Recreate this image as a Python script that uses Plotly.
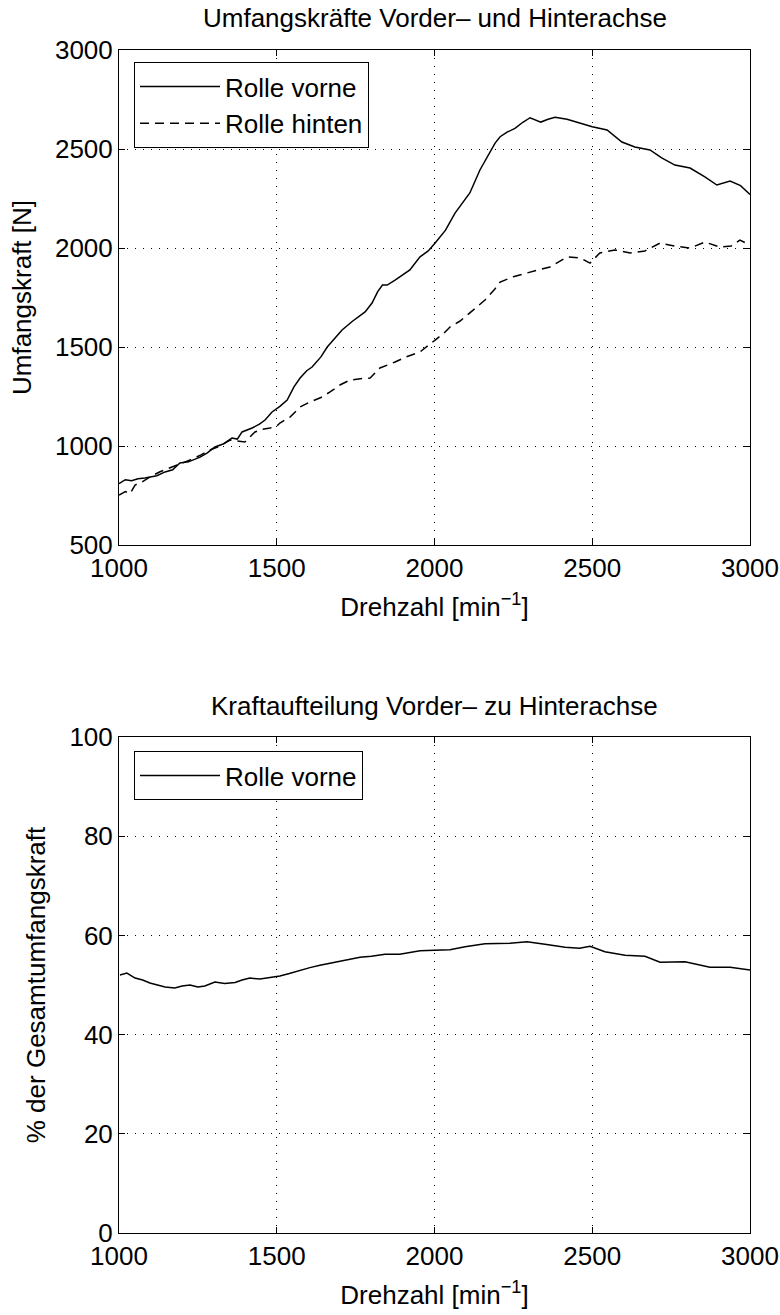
import plotly.graph_objects as go

# ---- data ----
rpm_vorne = [1000, 1020, 1040, 1060, 1082, 1100, 1120, 1146, 1170, 1193, 1220, 1257, 1280, 1304, 1330,
             1358, 1375, 1390, 1422, 1445, 1463, 1485, 1510, 1533, 1555, 1574, 1595, 1612, 1640, 1660,
             1685, 1707, 1740, 1780, 1802, 1820, 1835, 1850, 1875, 1900, 1922, 1954, 1980, 2002, 2035,
             2065, 2090, 2112, 2144, 2176, 2192, 2208, 2230, 2255, 2280, 2303, 2320, 2337, 2360, 2382,
             2420, 2461, 2500, 2547, 2570, 2594, 2635, 2683, 2720, 2762, 2810, 2857, 2895, 2937, 2970, 3000]
kraft_vorne = [810, 830, 825, 835, 838, 845, 850, 869, 880, 914, 920, 944, 965, 995, 1010,
               1040, 1035, 1071, 1091, 1110, 1131, 1172, 1200, 1232, 1300, 1343, 1380, 1399, 1450, 1500,
               1545, 1586, 1630, 1677, 1722, 1780, 1813, 1813, 1838, 1865, 1889, 1955, 1985, 2025, 2090,
               2176, 2230, 2278, 2394, 2480, 2530, 2562, 2585, 2604, 2635, 2658, 2648, 2636, 2650, 2660,
               2650, 2630, 2612, 2596, 2565, 2535, 2510, 2495, 2455, 2419, 2404, 2359, 2318, 2338, 2315, 2270]

rpm_hinten = [1000, 1020, 1035, 1051, 1075, 1098, 1130, 1162, 1190, 1225, 1260, 1288, 1320, 1352, 1375,
              1399, 1431, 1455, 1479, 1500, 1510, 1542, 1574, 1605, 1640, 1669, 1700, 1732, 1765, 1796,
              1827, 1875, 1910, 1954, 2002, 2030, 2049, 2080, 2112, 2140, 2160, 2190, 2208, 2250, 2287,
              2330, 2366, 2400, 2420, 2461, 2493, 2524, 2550, 2572, 2620, 2667, 2715, 2760, 2810, 2857,
              2905, 2940, 2968, 3000]
kraft_hinten = [752, 770, 760, 803, 820, 844, 870, 889, 905, 929, 955, 980, 1000, 1030, 1025,
                1020, 1071, 1085, 1091, 1100, 1116, 1146, 1197, 1222, 1245, 1273, 1308, 1333, 1340, 1343,
                1394, 1424, 1450, 1475, 1535, 1570, 1601, 1630, 1672, 1710, 1737, 1790, 1828, 1855, 1873,
                1890, 1904, 1935, 1955, 1950, 1924, 1975, 1985, 1990, 1975, 1985, 2025, 2010, 2000, 2030,
                2004, 2010, 2040, 2015]

rpm_anteil = [1003, 1025, 1051, 1075, 1098, 1120, 1146, 1177, 1200, 1225, 1250, 1272, 1304, 1335, 1368,
              1390, 1415, 1447, 1480, 1510, 1540, 1574, 1605, 1637, 1685, 1720, 1764, 1800, 1843, 1890,
              1954, 2000, 2049, 2097, 2160, 2239, 2293, 2350, 2414, 2460, 2493, 2540, 2604, 2667, 2715,
              2794, 2830, 2873, 2937, 3000]
anteil_vorne = [52.0, 52.4, 51.4, 51.0, 50.4, 50.0, 49.6, 49.4, 49.8, 50.0, 49.6, 49.8, 50.6, 50.3, 50.5,
                51.0, 51.4, 51.2, 51.5, 51.8, 52.3, 53.0, 53.5, 54.0, 54.6, 55.0, 55.6, 55.8, 56.2, 56.2,
                56.9, 57.0, 57.1, 57.7, 58.3, 58.4, 58.7, 58.2, 57.6, 57.4, 57.8, 56.7, 56.0, 55.8, 54.6,
                54.7, 54.2, 53.6, 53.6, 53.0]

x_ticks = [1000, 1500, 2000, 2500, 3000]
y1_ticks = [500, 1000, 1500, 2000, 2500, 3000]
y2_ticks = [0, 20, 40, 60, 80, 100]

FONT = "Liberation Sans, Arial, Helvetica, sans-serif"
FS = 26

fig = go.Figure()
fig.add_trace(go.Scatter(x=rpm_vorne, y=kraft_vorne, mode="lines", name="Rolle vorne",
                         line=dict(color="black", width=1.5), xaxis="x", yaxis="y", legend="legend"))
fig.add_trace(go.Scatter(x=rpm_hinten, y=kraft_hinten, mode="lines", name="Rolle hinten",
                         line=dict(color="black", width=1.5, dash="9px,6px"), xaxis="x", yaxis="y",
                         legend="legend"))
fig.add_trace(go.Scatter(x=rpm_anteil, y=anteil_vorne, mode="lines", name="Rolle vorne",
                         line=dict(color="black", width=1.5), xaxis="x2", yaxis="y2", legend="legend2"))

axis_common = dict(
    showline=True, linecolor="black", linewidth=1, mirror="ticks",
    ticks="inside", ticklen=6, tickcolor="black", automargin=False,
    showgrid=True, gridcolor="black", gridwidth=1, griddash="1px,7px",
    zeroline=False, tickfont=dict(size=FS, color="black", family=FONT),
)

XDOM = [119 / 780, 750 / 780]

fig.update_layout(
    width=780, height=1315,
    margin=dict(l=0, r=0, t=0, b=0),
    paper_bgcolor="white", plot_bgcolor="white",
    font=dict(family=FONT, color="black"),
    xaxis=dict(domain=XDOM, range=[1000, 3000], tickvals=x_ticks, anchor="y",
               title=dict(text="Drehzahl [min<sup>−1</sup>]", font=dict(size=FS), standoff=15),
               **axis_common),
    yaxis=dict(domain=[1 - 545 / 1315, 1 - 50 / 1315], range=[500, 3000], tickvals=y1_ticks, anchor="x",
               title=dict(text="Umfangskraft [N]", font=dict(size=FS), standoff=15),
               **axis_common),
    xaxis2=dict(domain=XDOM, range=[1000, 3000], tickvals=x_ticks, anchor="y2",
                title=dict(text="Drehzahl [min<sup>−1</sup>]", font=dict(size=FS), standoff=15),
                **axis_common),
    yaxis2=dict(domain=[1 - 1233 / 1315, 1 - 737 / 1315], range=[0, 100], tickvals=y2_ticks, anchor="x2",
                title=dict(text="% der Gesamtumfangskraft", font=dict(size=FS), standoff=16),
                **axis_common),
    legend=dict(x=134 / 780, y=1 - 62 / 1315, xanchor="left", yanchor="top",
                bgcolor="white", bordercolor="black", borderwidth=1, itemwidth=80,
                font=dict(size=FS, color="black", family=FONT)),
    legend2=dict(x=134 / 780, y=1 - 751 / 1315, xanchor="left", yanchor="top",
                 bgcolor="white", bordercolor="black", borderwidth=1, itemwidth=80,
                 font=dict(size=FS, color="black", family=FONT)),
    annotations=[
        dict(text="Umfangskräfte Vorder– und Hinterachse", x=(119 + 750) / 2 / 780, y=1 - 18 / 1315,
             xref="paper", yref="paper", showarrow=False, xanchor="center", yanchor="middle",
             font=dict(size=FS, color="black", family=FONT)),
        dict(text="Kraftaufteilung Vorder– zu Hinterachse", x=(119 + 750) / 2 / 780, y=1 - 706 / 1315,
             xref="paper", yref="paper", showarrow=False, xanchor="center", yanchor="middle",
             font=dict(size=FS, color="black", family=FONT)),
    ],
    showlegend=True,
)

fig.write_html("out.html")
